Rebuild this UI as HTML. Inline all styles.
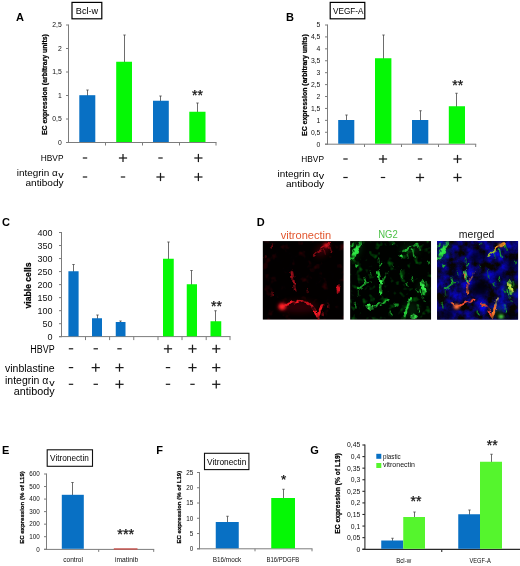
<!DOCTYPE html>
<html><head><meta charset="utf-8"><title>Figure</title>
<style>
html,body{margin:0;padding:0;background:#fff;}
body{width:520px;height:566px;overflow:hidden;}
svg{display:block;font-family:"Liberation Sans",sans-serif;}
</style></head><body>
<svg width="520" height="566" viewBox="0 0 520 566">
<defs>
<filter id="b1" x="-50%" y="-50%" width="200%" height="200%"><feGaussianBlur stdDeviation="0.9"/></filter>
<filter id="b2" x="-50%" y="-50%" width="200%" height="200%"><feGaussianBlur stdDeviation="1.6"/></filter>
<filter id="b3" x="-50%" y="-50%" width="200%" height="200%"><feGaussianBlur stdDeviation="3"/></filter>
<filter id="b0" x="-50%" y="-50%" width="200%" height="200%"><feGaussianBlur stdDeviation="0.55"/></filter>
<filter id="nr" x="0" y="0" width="100%" height="100%" color-interpolation-filters="sRGB"><feTurbulence type="fractalNoise" baseFrequency="0.09" numOctaves="3" seed="7"/><feColorMatrix type="matrix" values="2.4 0 0 0 -1.42  0 0 0 0 0  0.1 0 0 0 -0.04  0 0 0 0 1"/></filter>
<filter id="ng" x="0" y="0" width="100%" height="100%" color-interpolation-filters="sRGB"><feTurbulence type="fractalNoise" baseFrequency="0.16" numOctaves="2" seed="11"/><feColorMatrix type="matrix" values="0 0 0 0 0  0 3.6 0 0 -2.05  0 0.3 0 0 -0.15  0 0 0 0 1"/></filter>
<filter id="nb" x="0" y="0" width="100%" height="100%" color-interpolation-filters="sRGB"><feTurbulence type="fractalNoise" baseFrequency="0.1" numOctaves="4" seed="5"/><feColorMatrix type="matrix" values="0 0 0 0 0.03  0 0 0 0 0.02  0 0 1.55 0 -0.42  0 0 0 0 1"/></filter>
<filter id="org" x="-5%" y="-5%" width="110%" height="110%" color-interpolation-filters="sRGB"><feTurbulence type="fractalNoise" baseFrequency="0.2" numOctaves="2" seed="2" result="n"/><feDisplacementMap in="SourceGraphic" in2="n" scale="4" xChannelSelector="R" yChannelSelector="G" result="d"/><feColorMatrix in="n" type="matrix" values="0 0 0 0 1  0 0 0 0 1  0 0 0 0 1  0 0 2.6 0 -0.5" result="m"/><feComposite in="d" in2="m" operator="in" result="dm"/><feGaussianBlur in="dm" stdDeviation="0.65"/></filter>
<clipPath id="c1"><rect x="0" y="0" width="81" height="78.5"/></clipPath>
</defs>
<rect width="520" height="566" fill="#fff"/>

<text x="16" y="20.5" font-size="11" font-weight="bold" fill="#000" >A</text>
<rect x="72.00" y="2.40" width="29.80" height="16.40" fill="#fff" stroke="#000" stroke-width="1.2"/>
<text x="75.8" y="14" font-size="9.4" fill="#000" textLength="22.3" lengthAdjust="spacingAndGlyphs" >Bcl-w</text>
<line x1="68.5" y1="24.5" x2="68.5" y2="143.0" stroke="#7c7c7c" stroke-width="1"/>
<line x1="66.0" y1="142.5" x2="216.5" y2="142.5" stroke="#7c7c7c" stroke-width="1"/>
<line x1="105.5" y1="142.5" x2="105.5" y2="145.5" stroke="#7c7c7c" stroke-width="1"/>
<line x1="142.5" y1="142.5" x2="142.5" y2="145.5" stroke="#7c7c7c" stroke-width="1"/>
<line x1="179.5" y1="142.5" x2="179.5" y2="145.5" stroke="#7c7c7c" stroke-width="1"/>
<line x1="216" y1="142.5" x2="216" y2="145.5" stroke="#7c7c7c" stroke-width="1"/>
<line x1="66.0" y1="25" x2="68.5" y2="25" stroke="#7c7c7c" stroke-width="1"/>
<text x="61.8" y="27.448" font-size="6.8" text-anchor="end" fill="#111" >2,5</text>
<line x1="66.0" y1="48.5" x2="68.5" y2="48.5" stroke="#7c7c7c" stroke-width="1"/>
<text x="61.8" y="50.948" font-size="6.8" text-anchor="end" fill="#111" >2</text>
<line x1="66.0" y1="72" x2="68.5" y2="72" stroke="#7c7c7c" stroke-width="1"/>
<text x="61.8" y="74.448" font-size="6.8" text-anchor="end" fill="#111" >1,5</text>
<line x1="66.0" y1="95.5" x2="68.5" y2="95.5" stroke="#7c7c7c" stroke-width="1"/>
<text x="61.8" y="97.948" font-size="6.8" text-anchor="end" fill="#111" >1</text>
<line x1="66.0" y1="119" x2="68.5" y2="119" stroke="#7c7c7c" stroke-width="1"/>
<text x="61.8" y="121.448" font-size="6.8" text-anchor="end" fill="#111" >0,5</text>
<line x1="66.0" y1="142.5" x2="68.5" y2="142.5" stroke="#7c7c7c" stroke-width="1"/>
<text x="61.8" y="144.948" font-size="6.8" text-anchor="end" fill="#111" >0</text>
<text font-size="6.7" text-anchor="middle" font-weight="bold" stroke="#000" stroke-width="0.22" fill="#000" textLength="101" lengthAdjust="spacingAndGlyphs" transform="translate(47.3 84.6) rotate(-90)" >EC expression (arbitrary units)</text>
<line x1="87.5" y1="90" x2="87.5" y2="96.2" stroke="#484848" stroke-width="0.8"/>
<line x1="86.3" y1="90" x2="88.7" y2="90" stroke="#484848" stroke-width="0.8"/>
<rect x="79.30" y="95.20" width="16.00" height="46.80" fill="#0870c4"/>
<line x1="124.5" y1="35" x2="124.5" y2="62.75" stroke="#484848" stroke-width="0.8"/>
<line x1="123.3" y1="35" x2="125.7" y2="35" stroke="#484848" stroke-width="0.8"/>
<rect x="116.20" y="61.75" width="15.80" height="80.25" fill="#05f805"/>
<line x1="160.5" y1="96" x2="160.5" y2="101.75" stroke="#484848" stroke-width="0.8"/>
<line x1="159.3" y1="96" x2="161.7" y2="96" stroke="#484848" stroke-width="0.8"/>
<rect x="153.00" y="100.75" width="15.80" height="41.25" fill="#0870c4"/>
<line x1="197.5" y1="103" x2="197.5" y2="112.75" stroke="#484848" stroke-width="0.8"/>
<line x1="196.3" y1="103" x2="198.7" y2="103" stroke="#484848" stroke-width="0.8"/>
<rect x="189.30" y="111.75" width="16.20" height="30.25" fill="#05f805"/>
<text x="197.5" y="99.92" font-size="14" text-anchor="middle" fill="#111" stroke="#111" stroke-width="0.25">**</text>
<text x="63.5" y="161" font-size="9.6" text-anchor="end" fill="#000" textLength="22.7" lengthAdjust="spacingAndGlyphs" >HBVP</text>
<text x="16.7" y="175.8" font-size="9.6" fill="#000" textLength="41" lengthAdjust="spacingAndGlyphs" >integrin α</text>
<text x="58.2" y="178" font-size="8.4" fill="#000" textLength="5.4" lengthAdjust="spacingAndGlyphs" >v</text>
<text x="63.5" y="185.8" font-size="9.6" text-anchor="end" fill="#000" textLength="38" lengthAdjust="spacingAndGlyphs" >antibody</text>
<line x1="82.8" y1="158" x2="87.2" y2="158" stroke="#1a1a1a" stroke-width="1.2"/>
<line x1="82.8" y1="177" x2="87.2" y2="177" stroke="#1a1a1a" stroke-width="1.2"/>
<line x1="118.9" y1="158" x2="127.1" y2="158" stroke="#1a1a1a" stroke-width="1.25"/>
<line x1="123" y1="153.9" x2="123" y2="162.1" stroke="#1a1a1a" stroke-width="1.25"/>
<line x1="120.8" y1="177" x2="125.2" y2="177" stroke="#1a1a1a" stroke-width="1.2"/>
<line x1="158.3" y1="158" x2="162.7" y2="158" stroke="#1a1a1a" stroke-width="1.2"/>
<line x1="156.4" y1="177" x2="164.6" y2="177" stroke="#1a1a1a" stroke-width="1.25"/>
<line x1="160.5" y1="172.9" x2="160.5" y2="181.1" stroke="#1a1a1a" stroke-width="1.25"/>
<line x1="194.3" y1="158" x2="202.5" y2="158" stroke="#1a1a1a" stroke-width="1.25"/>
<line x1="198.4" y1="153.9" x2="198.4" y2="162.1" stroke="#1a1a1a" stroke-width="1.25"/>
<line x1="194.3" y1="177" x2="202.5" y2="177" stroke="#1a1a1a" stroke-width="1.25"/>
<line x1="198.4" y1="172.9" x2="198.4" y2="181.1" stroke="#1a1a1a" stroke-width="1.25"/>
<text x="286" y="20.5" font-size="11" font-weight="bold" fill="#000" >B</text>
<rect x="330.20" y="2.40" width="34.60" height="16.40" fill="#fff" stroke="#000" stroke-width="1.2"/>
<text x="333" y="14.1" font-size="9.4" fill="#000" textLength="30.4" lengthAdjust="spacingAndGlyphs" >VEGF-A</text>
<line x1="327.5" y1="24.5" x2="327.5" y2="144.7" stroke="#7c7c7c" stroke-width="1"/>
<line x1="325.0" y1="144.2" x2="476.2" y2="144.2" stroke="#7c7c7c" stroke-width="1"/>
<line x1="364.5" y1="144.2" x2="364.5" y2="147.0" stroke="#7c7c7c" stroke-width="1"/>
<line x1="401.5" y1="144.2" x2="401.5" y2="147.0" stroke="#7c7c7c" stroke-width="1"/>
<line x1="438.5" y1="144.2" x2="438.5" y2="147.0" stroke="#7c7c7c" stroke-width="1"/>
<line x1="475.7" y1="144.2" x2="475.7" y2="147.0" stroke="#7c7c7c" stroke-width="1"/>
<line x1="325.0" y1="25.0" x2="327.5" y2="25.0" stroke="#7c7c7c" stroke-width="1"/>
<text x="320.4" y="27.448" font-size="6.8" text-anchor="end" fill="#111" >5</text>
<line x1="325.0" y1="36.92" x2="327.5" y2="36.92" stroke="#7c7c7c" stroke-width="1"/>
<text x="320.4" y="39.368" font-size="6.8" text-anchor="end" fill="#111" >4,5</text>
<line x1="325.0" y1="48.84" x2="327.5" y2="48.84" stroke="#7c7c7c" stroke-width="1"/>
<text x="320.4" y="51.288000000000004" font-size="6.8" text-anchor="end" fill="#111" >4</text>
<line x1="325.0" y1="60.76" x2="327.5" y2="60.76" stroke="#7c7c7c" stroke-width="1"/>
<text x="320.4" y="63.208" font-size="6.8" text-anchor="end" fill="#111" >3,5</text>
<line x1="325.0" y1="72.68" x2="327.5" y2="72.68" stroke="#7c7c7c" stroke-width="1"/>
<text x="320.4" y="75.128" font-size="6.8" text-anchor="end" fill="#111" >3</text>
<line x1="325.0" y1="84.6" x2="327.5" y2="84.6" stroke="#7c7c7c" stroke-width="1"/>
<text x="320.4" y="87.04799999999999" font-size="6.8" text-anchor="end" fill="#111" >2,5</text>
<line x1="325.0" y1="96.52" x2="327.5" y2="96.52" stroke="#7c7c7c" stroke-width="1"/>
<text x="320.4" y="98.96799999999999" font-size="6.8" text-anchor="end" fill="#111" >2</text>
<line x1="325.0" y1="108.44" x2="327.5" y2="108.44" stroke="#7c7c7c" stroke-width="1"/>
<text x="320.4" y="110.88799999999999" font-size="6.8" text-anchor="end" fill="#111" >1,5</text>
<line x1="325.0" y1="120.36" x2="327.5" y2="120.36" stroke="#7c7c7c" stroke-width="1"/>
<text x="320.4" y="122.80799999999999" font-size="6.8" text-anchor="end" fill="#111" >1</text>
<line x1="325.0" y1="132.28" x2="327.5" y2="132.28" stroke="#7c7c7c" stroke-width="1"/>
<text x="320.4" y="134.728" font-size="6.8" text-anchor="end" fill="#111" >0,5</text>
<line x1="325.0" y1="144.2" x2="327.5" y2="144.2" stroke="#7c7c7c" stroke-width="1"/>
<text x="320.4" y="146.648" font-size="6.8" text-anchor="end" fill="#111" >0</text>
<text font-size="6.7" text-anchor="middle" font-weight="bold" stroke="#000" stroke-width="0.22" fill="#000" textLength="101.8" lengthAdjust="spacingAndGlyphs" transform="translate(307.2 85.1) rotate(-90)" >EC expression (arbitrary units)</text>
<line x1="346.5" y1="115" x2="346.5" y2="121" stroke="#484848" stroke-width="0.8"/>
<line x1="345.3" y1="115" x2="347.7" y2="115" stroke="#484848" stroke-width="0.8"/>
<rect x="338.20" y="120.00" width="16.10" height="23.70" fill="#0870c4"/>
<line x1="383.5" y1="35" x2="383.5" y2="59.25" stroke="#484848" stroke-width="0.8"/>
<line x1="382.3" y1="35" x2="384.7" y2="35" stroke="#484848" stroke-width="0.8"/>
<rect x="375.00" y="58.25" width="16.40" height="85.45" fill="#05f805"/>
<line x1="420.5" y1="110.75" x2="420.5" y2="121" stroke="#484848" stroke-width="0.8"/>
<line x1="419.3" y1="110.75" x2="421.7" y2="110.75" stroke="#484848" stroke-width="0.8"/>
<rect x="412.00" y="120.00" width="16.30" height="23.70" fill="#0870c4"/>
<line x1="456.5" y1="93.25" x2="456.5" y2="107.25" stroke="#484848" stroke-width="0.8"/>
<line x1="455.3" y1="93.25" x2="457.7" y2="93.25" stroke="#484848" stroke-width="0.8"/>
<rect x="448.80" y="106.25" width="16.20" height="37.45" fill="#05f805"/>
<text x="457.7" y="89.92" font-size="14" text-anchor="middle" fill="#111" stroke="#111" stroke-width="0.25">**</text>
<text x="324" y="162" font-size="9.6" text-anchor="end" fill="#000" textLength="22.7" lengthAdjust="spacingAndGlyphs" >HBVP</text>
<text x="277.5" y="176.8" font-size="9.6" fill="#000" textLength="41" lengthAdjust="spacingAndGlyphs" >integrin α</text>
<text x="318.8" y="179" font-size="8.4" fill="#000" textLength="5.4" lengthAdjust="spacingAndGlyphs" >v</text>
<text x="324" y="187" font-size="9.6" text-anchor="end" fill="#000" textLength="38" lengthAdjust="spacingAndGlyphs" >antibody</text>
<line x1="343.3" y1="159" x2="347.7" y2="159" stroke="#1a1a1a" stroke-width="1.2"/>
<line x1="343.3" y1="177.5" x2="347.7" y2="177.5" stroke="#1a1a1a" stroke-width="1.2"/>
<line x1="378.9" y1="159" x2="387.1" y2="159" stroke="#1a1a1a" stroke-width="1.25"/>
<line x1="383" y1="154.9" x2="383" y2="163.1" stroke="#1a1a1a" stroke-width="1.25"/>
<line x1="380.8" y1="177.5" x2="385.2" y2="177.5" stroke="#1a1a1a" stroke-width="1.2"/>
<line x1="417.8" y1="159" x2="422.2" y2="159" stroke="#1a1a1a" stroke-width="1.2"/>
<line x1="415.9" y1="177.5" x2="424.1" y2="177.5" stroke="#1a1a1a" stroke-width="1.25"/>
<line x1="420" y1="173.4" x2="420" y2="181.6" stroke="#1a1a1a" stroke-width="1.25"/>
<line x1="453.4" y1="159" x2="461.6" y2="159" stroke="#1a1a1a" stroke-width="1.25"/>
<line x1="457.5" y1="154.9" x2="457.5" y2="163.1" stroke="#1a1a1a" stroke-width="1.25"/>
<line x1="453.4" y1="177.5" x2="461.6" y2="177.5" stroke="#1a1a1a" stroke-width="1.25"/>
<line x1="457.5" y1="173.4" x2="457.5" y2="181.6" stroke="#1a1a1a" stroke-width="1.25"/>
<text x="2" y="225.6" font-size="11" font-weight="bold" fill="#000" >C</text>
<line x1="61.5" y1="232.0" x2="61.5" y2="337.1" stroke="#7c7c7c" stroke-width="1"/>
<line x1="59.0" y1="336.6" x2="230.5" y2="336.6" stroke="#7c7c7c" stroke-width="1"/>
<line x1="85.5" y1="336.6" x2="85.5" y2="340.1" stroke="#7c7c7c" stroke-width="1"/>
<line x1="109.6" y1="336.6" x2="109.6" y2="340.1" stroke="#7c7c7c" stroke-width="1"/>
<line x1="133.75" y1="336.6" x2="133.75" y2="340.1" stroke="#7c7c7c" stroke-width="1"/>
<line x1="158" y1="336.6" x2="158" y2="340.1" stroke="#7c7c7c" stroke-width="1"/>
<line x1="182" y1="336.6" x2="182" y2="340.1" stroke="#7c7c7c" stroke-width="1"/>
<line x1="206.2" y1="336.6" x2="206.2" y2="340.1" stroke="#7c7c7c" stroke-width="1"/>
<line x1="230" y1="336.6" x2="230" y2="340.1" stroke="#7c7c7c" stroke-width="1"/>
<line x1="59.0" y1="232.5" x2="61.5" y2="232.5" stroke="#7c7c7c" stroke-width="1"/>
<text x="52.5" y="235.74" font-size="9" text-anchor="end" fill="#111" >400</text>
<line x1="59.0" y1="245.53" x2="61.5" y2="245.53" stroke="#7c7c7c" stroke-width="1"/>
<text x="52.5" y="248.77" font-size="9" text-anchor="end" fill="#111" >350</text>
<line x1="59.0" y1="258.56" x2="61.5" y2="258.56" stroke="#7c7c7c" stroke-width="1"/>
<text x="52.5" y="261.8" font-size="9" text-anchor="end" fill="#111" >300</text>
<line x1="59.0" y1="271.59" x2="61.5" y2="271.59" stroke="#7c7c7c" stroke-width="1"/>
<text x="52.5" y="274.83" font-size="9" text-anchor="end" fill="#111" >250</text>
<line x1="59.0" y1="284.62" x2="61.5" y2="284.62" stroke="#7c7c7c" stroke-width="1"/>
<text x="52.5" y="287.86" font-size="9" text-anchor="end" fill="#111" >200</text>
<line x1="59.0" y1="297.65" x2="61.5" y2="297.65" stroke="#7c7c7c" stroke-width="1"/>
<text x="52.5" y="300.89" font-size="9" text-anchor="end" fill="#111" >150</text>
<line x1="59.0" y1="310.68" x2="61.5" y2="310.68" stroke="#7c7c7c" stroke-width="1"/>
<text x="52.5" y="313.92" font-size="9" text-anchor="end" fill="#111" >100</text>
<line x1="59.0" y1="323.71" x2="61.5" y2="323.71" stroke="#7c7c7c" stroke-width="1"/>
<text x="52.5" y="326.95" font-size="9" text-anchor="end" fill="#111" >50</text>
<line x1="59.0" y1="336.74" x2="61.5" y2="336.74" stroke="#7c7c7c" stroke-width="1"/>
<text x="52.5" y="339.98" font-size="9" text-anchor="end" fill="#111" >0</text>
<text font-size="8.8" text-anchor="middle" font-weight="bold" stroke="#000" stroke-width="0.22" fill="#000" textLength="46" lengthAdjust="spacingAndGlyphs" transform="translate(31 285.5) rotate(-90)" >viable cells</text>
<line x1="73.5" y1="264.5" x2="73.5" y2="272.25" stroke="#484848" stroke-width="0.8"/>
<line x1="72.3" y1="264.5" x2="74.7" y2="264.5" stroke="#484848" stroke-width="0.8"/>
<rect x="68.40" y="271.25" width="10.20" height="65.05" fill="#0870c4"/>
<line x1="97.5" y1="315" x2="97.5" y2="319.25" stroke="#484848" stroke-width="0.8"/>
<line x1="96.3" y1="315" x2="98.7" y2="315" stroke="#484848" stroke-width="0.8"/>
<rect x="92.00" y="318.25" width="10.00" height="18.05" fill="#0870c4"/>
<line x1="120.5" y1="321" x2="120.5" y2="323" stroke="#484848" stroke-width="0.8"/>
<line x1="119.3" y1="321" x2="121.7" y2="321" stroke="#484848" stroke-width="0.8"/>
<rect x="115.75" y="322.00" width="9.75" height="14.30" fill="#0870c4"/>
<line x1="168.5" y1="242" x2="168.5" y2="259.75" stroke="#484848" stroke-width="0.8"/>
<line x1="167.3" y1="242" x2="169.7" y2="242" stroke="#484848" stroke-width="0.8"/>
<rect x="163.00" y="258.75" width="10.75" height="77.55" fill="#05f805"/>
<line x1="191.5" y1="270.5" x2="191.5" y2="285.25" stroke="#484848" stroke-width="0.8"/>
<line x1="190.3" y1="270.5" x2="192.7" y2="270.5" stroke="#484848" stroke-width="0.8"/>
<rect x="186.75" y="284.25" width="10.25" height="52.05" fill="#05f805"/>
<line x1="215.5" y1="310.75" x2="215.5" y2="322.25" stroke="#484848" stroke-width="0.8"/>
<line x1="214.3" y1="310.75" x2="216.7" y2="310.75" stroke="#484848" stroke-width="0.8"/>
<rect x="210.50" y="321.25" width="10.75" height="15.05" fill="#05f805"/>
<text x="216.5" y="311.17" font-size="14" text-anchor="middle" fill="#111" stroke="#111" stroke-width="0.25">**</text>
<text x="54.6" y="353.3" font-size="10" text-anchor="end" fill="#000" textLength="24.3" lengthAdjust="spacingAndGlyphs" >HBVP</text>
<text x="54.6" y="371.7" font-size="10" text-anchor="end" fill="#000" textLength="49.6" lengthAdjust="spacingAndGlyphs" >vinblastine</text>
<text x="5" y="384" font-size="10" fill="#000" textLength="43.3" lengthAdjust="spacingAndGlyphs" >integrin α</text>
<text x="49.2" y="386.3" font-size="8.6" fill="#000" textLength="5.4" lengthAdjust="spacingAndGlyphs" >v</text>
<text x="54.6" y="394.9" font-size="10" text-anchor="end" fill="#000" textLength="40.8" lengthAdjust="spacingAndGlyphs" >antibody</text>
<line x1="68.8" y1="348.8" x2="73.2" y2="348.8" stroke="#1a1a1a" stroke-width="1.2"/>
<line x1="68.8" y1="367.6" x2="73.2" y2="367.6" stroke="#1a1a1a" stroke-width="1.2"/>
<line x1="68.8" y1="384.3" x2="73.2" y2="384.3" stroke="#1a1a1a" stroke-width="1.2"/>
<line x1="93.55" y1="348.8" x2="97.95" y2="348.8" stroke="#1a1a1a" stroke-width="1.2"/>
<line x1="91.65" y1="367.6" x2="99.85" y2="367.6" stroke="#1a1a1a" stroke-width="1.25"/>
<line x1="95.75" y1="363.5" x2="95.75" y2="371.70000000000005" stroke="#1a1a1a" stroke-width="1.25"/>
<line x1="93.55" y1="384.3" x2="97.95" y2="384.3" stroke="#1a1a1a" stroke-width="1.2"/>
<line x1="117.3" y1="348.8" x2="121.7" y2="348.8" stroke="#1a1a1a" stroke-width="1.2"/>
<line x1="115.4" y1="367.6" x2="123.6" y2="367.6" stroke="#1a1a1a" stroke-width="1.25"/>
<line x1="119.5" y1="363.5" x2="119.5" y2="371.70000000000005" stroke="#1a1a1a" stroke-width="1.25"/>
<line x1="115.4" y1="384.3" x2="123.6" y2="384.3" stroke="#1a1a1a" stroke-width="1.25"/>
<line x1="119.5" y1="380.2" x2="119.5" y2="388.40000000000003" stroke="#1a1a1a" stroke-width="1.25"/>
<line x1="163.9" y1="348.8" x2="172.1" y2="348.8" stroke="#1a1a1a" stroke-width="1.25"/>
<line x1="168" y1="344.7" x2="168" y2="352.90000000000003" stroke="#1a1a1a" stroke-width="1.25"/>
<line x1="165.8" y1="367.6" x2="170.2" y2="367.6" stroke="#1a1a1a" stroke-width="1.2"/>
<line x1="165.8" y1="384.3" x2="170.2" y2="384.3" stroke="#1a1a1a" stroke-width="1.2"/>
<line x1="188.4" y1="348.8" x2="196.6" y2="348.8" stroke="#1a1a1a" stroke-width="1.25"/>
<line x1="192.5" y1="344.7" x2="192.5" y2="352.90000000000003" stroke="#1a1a1a" stroke-width="1.25"/>
<line x1="188.4" y1="367.6" x2="196.6" y2="367.6" stroke="#1a1a1a" stroke-width="1.25"/>
<line x1="192.5" y1="363.5" x2="192.5" y2="371.70000000000005" stroke="#1a1a1a" stroke-width="1.25"/>
<line x1="190.3" y1="384.3" x2="194.7" y2="384.3" stroke="#1a1a1a" stroke-width="1.2"/>
<line x1="212.15" y1="348.8" x2="220.35" y2="348.8" stroke="#1a1a1a" stroke-width="1.25"/>
<line x1="216.25" y1="344.7" x2="216.25" y2="352.90000000000003" stroke="#1a1a1a" stroke-width="1.25"/>
<line x1="212.15" y1="367.6" x2="220.35" y2="367.6" stroke="#1a1a1a" stroke-width="1.25"/>
<line x1="216.25" y1="363.5" x2="216.25" y2="371.70000000000005" stroke="#1a1a1a" stroke-width="1.25"/>
<line x1="212.15" y1="384.3" x2="220.35" y2="384.3" stroke="#1a1a1a" stroke-width="1.25"/>
<line x1="216.25" y1="380.2" x2="216.25" y2="388.40000000000003" stroke="#1a1a1a" stroke-width="1.25"/>
<text x="256.7" y="225.6" font-size="11" font-weight="bold" fill="#000" >D</text>
<text x="306" y="238.6" font-size="10.5" text-anchor="middle" fill="#e2562f" textLength="50.5" lengthAdjust="spacingAndGlyphs" >vitronectin</text>
<text x="388" y="238.4" font-size="10.5" text-anchor="middle" fill="#4fc24a" textLength="19.5" lengthAdjust="spacingAndGlyphs" >NG2</text>
<text x="476.6" y="238.4" font-size="10.5" text-anchor="middle" fill="#111" textLength="35.5" lengthAdjust="spacingAndGlyphs" >merged</text>
<g transform="translate(262.7 241.1)"><g clip-path="url(#c1)">
<rect width="81" height="79" fill="#040001"/>
<rect width="81" height="79" filter="url(#nr)" opacity="0.3"/>
<g filter="url(#b3)" opacity="0.45">
<ellipse cx="60" cy="9" rx="9" ry="5" fill="#700008" transform="rotate(-35 60 9)"/>
<ellipse cx="36" cy="66" rx="20" ry="6" fill="#600008"/>
</g>
<g filter="url(#org)" fill="none" stroke-linecap="round" stroke-linejoin="round">
<rect x="0" y="0" width="81" height="79" fill="none" stroke="none"/>
<path d="M29 31 L30.5 38 L31.5 44 L32.5 50" stroke="#a00e1a" stroke-width="2.6"/>
<path d="M51 15 L55 11 L58 9" stroke="#8a0a14" stroke-width="1.8"/>
<path d="M59 7 L62 5 L66 3" stroke="#c00e1c" stroke-width="2.6"/>
<path d="M67 6 L69 11" stroke="#7a0912" stroke-width="1.6"/>
<path d="M61.5 9 L62.5 13" stroke="#7a0912" stroke-width="1.5"/>
<ellipse cx="75.6" cy="48" rx="1.8" ry="5" fill="#d0101e" stroke="none"/>
<ellipse cx="66" cy="64" rx="1.3" ry="3.8" fill="#7a0912" stroke="none"/>
<ellipse cx="9.5" cy="5" rx="1.1" ry="2.8" fill="#6a0810" stroke="none"/>
<ellipse cx="9" cy="53" rx="1.3" ry="2.8" fill="#60070e" stroke="none"/>
<ellipse cx="3" cy="16" rx="1.3" ry="1.8" fill="#60070e" stroke="none"/>
<ellipse cx="60" cy="73" rx="1.3" ry="2.8" fill="#7a0912" stroke="none"/>
<ellipse cx="45" cy="50" rx="1.3" ry="3.2" fill="#50060c" stroke="none"/>
<path d="M20 66 L25 63 L31 61 L36 60" stroke="#f01824" stroke-width="2.8"/>
<path d="M36 60 L40 60 L45 62 L49 65" stroke="#c0101c" stroke-width="2.2"/>
<path d="M49 65 L52 69 L54 73 L55.5 78" stroke="#f81a26" stroke-width="2.8"/>
<path d="M55.5 77 L57 70 L59.5 64" stroke="#f01824" stroke-width="2.2"/>
</g>
<g filter="url(#b2)" opacity="0.55"><ellipse cx="19.5" cy="65.5" rx="5" ry="4.5" fill="#b00c14"/><ellipse cx="63.6" cy="4.4" rx="4" ry="3" fill="#900c14"/></g>
<g filter="url(#b1)">
<ellipse cx="19.5" cy="65.5" rx="3.2" ry="2.8" fill="#ff2228"/>
<ellipse cx="63.6" cy="4.4" rx="2.3" ry="1.9" fill="#e01622"/>
</g>
</g></g>
<g transform="translate(350.1 241.1)"><g clip-path="url(#c1)">
<rect width="81" height="79" fill="#010301"/>
<rect width="81" height="79" filter="url(#ng)" opacity="0.32"/>
<g filter="url(#b3)" opacity="0.3">
<ellipse cx="6" cy="10" rx="4" ry="10" fill="#0a7a18" transform="rotate(25 6 10)"/>
<ellipse cx="60" cy="9" rx="10" ry="5" fill="#0a5a14"/>
<ellipse cx="73" cy="47" rx="5" ry="7" fill="#0a6a16"/>
<ellipse cx="61" cy="68" rx="8" ry="8" fill="#0a5a14"/>
</g>
<g filter="url(#org)" fill="none" stroke-linecap="round" stroke-linejoin="round">
<rect x="0" y="0" width="81" height="79" fill="none" stroke="none"/>
<path d="M2.5 17 L5 11 L8 6 L10.5 2.5" stroke-width="4.4" stroke="#26d03a"/>
<path d="M4 12 L7 7" stroke-width="2.6" stroke="#30e848"/>
<path d="M1 6 L3 2" stroke-width="2" stroke="#1eb030"/>
<ellipse cx="6.7" cy="24" rx="1.7" ry="1.6" fill="#1eb030" stroke="none"/>
<path d="M29 26 L31.5 22" stroke-width="1.6" stroke="#1eb030"/>
<path d="M28.5 17 L29 21" stroke-width="1.4" stroke="#168a24"/>
<path d="M54 10 L60 6 L67 3.5" stroke-width="2" stroke="#1eb030"/>
<ellipse cx="51" cy="15.5" rx="1.8" ry="1.8" fill="#30e848" stroke="none"/>
<path d="M62.5 9 L64 16" stroke-width="1.7" stroke="#1eb030"/>
<path d="M68 4 L70 9" stroke-width="1.6" stroke="#168a24"/>
<path d="M57 12 L58 17" stroke-width="1.4" stroke="#168a24"/>
<ellipse cx="44" cy="2" rx="1.6" ry="1.3" fill="#1eb030" stroke="none"/>
<ellipse cx="78" cy="22" rx="1.3" ry="1.8" fill="#168a24" stroke="none"/>
<path d="M28 30.5 L29.5 36 L30.5 41 L30.3 47 L30 53" stroke-width="2.4" stroke="#26d03a"/>
<path d="M37 32 L35 36 L32.5 40" stroke-width="1.5" stroke="#1eb030"/>
<path d="M14 37 L16 42 L12 45 L8.5 48" stroke-width="1.7" stroke="#1eb030"/>
<path d="M16 42 L21 41" stroke-width="1.4" stroke="#168a24"/>
<path d="M8 50 L8.5 55" stroke-width="1.4" stroke="#168a24"/>
<path d="M51 30 L51.5 36" stroke-width="1.7" stroke="#168a24"/>
<path d="M62 36.5 L62.5 40" stroke-width="1.6" stroke="#168a24"/>
<path d="M57 42 L58 45" stroke-width="1.4" stroke="#168a24"/>
<path d="M66 48 L68 52" stroke-width="1.5" stroke="#168a24"/>
<path d="M42 24 L43 27" stroke-width="1.3" stroke="#168a24"/>
<path d="M20 30 L21 33" stroke-width="1.3" stroke="#168a24"/>
<path d="M40 70 L42 74" stroke-width="1.4" stroke="#168a24"/>
<path d="M5 62 L6 66" stroke-width="1.3" stroke="#168a24"/>
<path d="M24 65 L31 62.5 L38.5 58.5" stroke-width="1.9" stroke="#1eb030"/>
<path d="M54.6 75 L56 70 L58 64 L60 58" stroke-width="2.3" stroke="#26d03a"/>
<path d="M67 62.5 L68 66 L69 70.5" stroke-width="1.8" stroke="#1eb030"/>
<ellipse cx="46.6" cy="64" rx="2.3" ry="1.6" fill="#168a24" stroke="none"/>
<path d="M72 56 L74 60" stroke-width="1.5" stroke="#168a24"/>
<path d="M72.5 41 L73.5 46 L74.5 52" stroke-width="3.8" stroke="#26d03a"/>
<path d="M71.5 43 L73.5 46.5 L75.5 50" stroke-width="1.8" stroke="#3af050"/>
<path d="M76 41 L77 45" stroke-width="1.5" stroke="#1eb030"/>
<path d="M70 49 L71 53" stroke-width="1.5" stroke="#1eb030"/>
</g>
<g filter="url(#org)" stroke-linecap="round" fill="none">
<rect x="0" y="0" width="81" height="79" fill="none" stroke="none"/>
<path d="M17.8 64.3 L19.5 66 L21.2 67.3" stroke-width="5" stroke="#38f04c"/>
<path d="M62.8 75 L65.2 76" stroke-width="4.8" stroke="#38f04c"/>
<ellipse cx="30.5" cy="40.5" rx="1.5" ry="3" fill="#3af050" stroke="none"/>
</g>
</g></g>
<g transform="translate(437.1 241.1)"><g clip-path="url(#c1)">
<rect width="81" height="79" fill="#08085a"/>
<rect width="81" height="79" filter="url(#nb)"/>
<g filter="url(#b3)" opacity="0.9">
<ellipse cx="43" cy="47" rx="9" ry="9" fill="#01010a"/>
<ellipse cx="40" cy="15" rx="8" ry="5" fill="#020218"/>
<ellipse cx="76" cy="22" rx="5" ry="7" fill="#020218"/>
<ellipse cx="10" cy="73" rx="7" ry="4" fill="#02021c"/>
<ellipse cx="75" cy="75" rx="5" ry="4" fill="#01010e"/>
<ellipse cx="62" cy="36" rx="5" ry="4" fill="#020218"/>
<ellipse cx="18" cy="32" rx="4" ry="5" fill="#03032a"/>
</g>
<g filter="url(#b3)" opacity="0.4">
<ellipse cx="6" cy="10" rx="4" ry="10" fill="#0a8a18" transform="rotate(25 6 10)"/>
<ellipse cx="73" cy="47" rx="5" ry="7" fill="#0a7a16"/>
<ellipse cx="61" cy="70" rx="7" ry="6" fill="#0a5a14"/>
</g>
<g filter="url(#org)" fill="none" stroke-linecap="round" stroke-linejoin="round">
<rect x="0" y="0" width="81" height="79" fill="none" stroke="none"/>
<path d="M2.5 17 L5 11 L8 6 L10.5 2.5" stroke-width="4.4" stroke="#26d03a"/>
<path d="M4 12 L7 7" stroke-width="2.6" stroke="#30e848"/>
<path d="M1 6 L3 2" stroke-width="2" stroke="#1eb030"/>
<ellipse cx="6.7" cy="24" rx="1.7" ry="1.6" fill="#1eb030" stroke="none"/>
<path d="M29 26 L31.5 22" stroke-width="1.6" stroke="#1eb030"/>
<path d="M28.5 17 L29 21" stroke-width="1.4" stroke="#168a24"/>
<path d="M62.5 9 L64 16" stroke-width="1.7" stroke="#1eb030"/>
<path d="M68 4 L70 9" stroke-width="1.6" stroke="#168a24"/>
<path d="M57 12 L58 17" stroke-width="1.4" stroke="#168a24"/>
<ellipse cx="44" cy="2" rx="1.6" ry="1.3" fill="#1eb030" stroke="none"/>
<ellipse cx="78" cy="22" rx="1.3" ry="1.8" fill="#168a24" stroke="none"/>
<path d="M14 37 L16 42 L12 45 L8.5 48" stroke-width="1.7" stroke="#1eb030"/>
<path d="M16 42 L21 41" stroke-width="1.4" stroke="#168a24"/>
<path d="M8 50 L8.5 55" stroke-width="1.4" stroke="#168a24"/>
<path d="M51 30 L51.5 36" stroke-width="1.7" stroke="#168a24"/>
<path d="M62 36.5 L62.5 40" stroke-width="1.6" stroke="#168a24"/>
<path d="M57 42 L58 45" stroke-width="1.4" stroke="#168a24"/>
<path d="M66 48 L68 52" stroke-width="1.5" stroke="#168a24"/>
<path d="M42 24 L43 27" stroke-width="1.3" stroke="#168a24"/>
<path d="M20 30 L21 33" stroke-width="1.3" stroke="#168a24"/>
<path d="M40 70 L42 74" stroke-width="1.4" stroke="#168a24"/>
<path d="M5 62 L6 66" stroke-width="1.3" stroke="#168a24"/>
<path d="M67 62.5 L68 66 L69 70.5" stroke-width="1.8" stroke="#1eb030"/>
<ellipse cx="46.6" cy="64" rx="2.3" ry="1.6" fill="#168a24" stroke="none"/>
<path d="M72 56 L74 60" stroke-width="1.5" stroke="#168a24"/>
<path d="M72.5 41 L73.5 46 L74.5 52" stroke-width="3.8" stroke="#60c834"/>
<path d="M71.5 43 L73.5 46.5 L75.5 50" stroke-width="1.8" stroke="#c8d848"/>
<path d="M76 41 L77 45" stroke-width="1.5" stroke="#1eb030"/>
<path d="M70 49 L71 53" stroke-width="1.5" stroke="#1eb030"/>
</g>
<g filter="url(#org)" fill="none" stroke-linecap="round" stroke-linejoin="round">
<rect x="0" y="0" width="81" height="79" fill="none" stroke="none"/>
<path d="M51 15.5 L55 11.5 L58 9" stroke-width="2" stroke="#9ac026"/>
<path d="M59 7 L62 5 L67 3.5" stroke-width="2.8" stroke="#f08a20"/>
<path d="M28 30.5 L29.5 36 L30.5 41" stroke-width="2.4" stroke="#48c850"/>
<path d="M27.5 33 L28 38" stroke-width="1.4" stroke="#e0682c"/>
<path d="M30.5 42 L30.3 47 L30 53" stroke-width="2" stroke="#d8602e"/>
<path d="M37 32 L35 36 L32.5 40" stroke-width="1.4" stroke="#b06a44"/>
<path d="M21 66 Q26 62 32 60.5 L37 58.5" stroke="#f8502e" stroke-width="2.6"/>
<path d="M45 63.5 Q49 64 51 67 L53 71 L55 77" stroke="#e8442e" stroke-width="2.3"/>
<path d="M55 77 L57 70 L58.5 64" stroke="#f8782e" stroke-width="2.3"/>
<path d="M58.5 64 L60 58" stroke="#a89a58" stroke-width="1.8"/>
<path d="M14 62 L17 64" stroke="#e8602e" stroke-width="1.8"/>
</g>
<g filter="url(#b1)">
<ellipse cx="19.5" cy="65.5" rx="3" ry="2.6" fill="#ff6e3e"/>
<ellipse cx="64" cy="75.5" rx="2.6" ry="2.2" fill="#48d030"/>
<ellipse cx="63.5" cy="4.2" rx="2.3" ry="1.7" fill="#f08a22"/>
</g>
</g></g>
<text x="2" y="453.8" font-size="11" font-weight="bold" fill="#000" >E</text>
<rect x="47.20" y="449.80" width="45.30" height="16.50" fill="#fff" stroke="#111" stroke-width="1.1"/>
<text x="50.1" y="461.4" font-size="8.8" fill="#000" textLength="38.7" lengthAdjust="spacingAndGlyphs" >Vitronectin</text>
<line x1="46.5" y1="473.5" x2="46.5" y2="549.9" stroke="#7c7c7c" stroke-width="1"/>
<line x1="44.0" y1="549.4" x2="154.2" y2="549.4" stroke="#7c7c7c" stroke-width="1"/>
<line x1="98.7" y1="549.4" x2="98.7" y2="551.9" stroke="#7c7c7c" stroke-width="1"/>
<line x1="153.7" y1="549.4" x2="153.7" y2="551.9" stroke="#7c7c7c" stroke-width="1"/>
<line x1="44.0" y1="474.0" x2="46.5" y2="474.0" stroke="#7c7c7c" stroke-width="1"/>
<text x="39.8" y="476.268" font-size="6.3" text-anchor="end" fill="#111" >600</text>
<line x1="44.0" y1="486.54" x2="46.5" y2="486.54" stroke="#7c7c7c" stroke-width="1"/>
<text x="39.8" y="488.808" font-size="6.3" text-anchor="end" fill="#111" >500</text>
<line x1="44.0" y1="499.08" x2="46.5" y2="499.08" stroke="#7c7c7c" stroke-width="1"/>
<text x="39.8" y="501.34799999999996" font-size="6.3" text-anchor="end" fill="#111" >400</text>
<line x1="44.0" y1="511.62" x2="46.5" y2="511.62" stroke="#7c7c7c" stroke-width="1"/>
<text x="39.8" y="513.888" font-size="6.3" text-anchor="end" fill="#111" >300</text>
<line x1="44.0" y1="524.16" x2="46.5" y2="524.16" stroke="#7c7c7c" stroke-width="1"/>
<text x="39.8" y="526.428" font-size="6.3" text-anchor="end" fill="#111" >200</text>
<line x1="44.0" y1="536.7" x2="46.5" y2="536.7" stroke="#7c7c7c" stroke-width="1"/>
<text x="39.8" y="538.9680000000001" font-size="6.3" text-anchor="end" fill="#111" >100</text>
<line x1="44.0" y1="549.24" x2="46.5" y2="549.24" stroke="#7c7c7c" stroke-width="1"/>
<text x="39.8" y="551.508" font-size="6.3" text-anchor="end" fill="#111" >0</text>
<text font-size="6.2" text-anchor="middle" font-weight="bold" stroke="#000" stroke-width="0.22" fill="#000" textLength="72.7" lengthAdjust="spacingAndGlyphs" transform="translate(24 507.5) rotate(-90)" >EC expression (% of L19)</text>
<line x1="72.5" y1="482.5" x2="72.5" y2="495.8" stroke="#484848" stroke-width="0.8"/>
<line x1="71.3" y1="482.5" x2="73.7" y2="482.5" stroke="#484848" stroke-width="0.8"/>
<rect x="61.80" y="494.80" width="22.00" height="54.00" fill="#0870c4"/>
<rect x="113.80" y="548.30" width="23.70" height="1.40" fill="#c8504a"/>
<text x="125.8" y="539.4849999999999" font-size="14.5" text-anchor="middle" fill="#111" stroke="#111" stroke-width="0.25">***</text>
<text x="73.1" y="561.7" font-size="6.4" text-anchor="middle" fill="#111" textLength="19.8" lengthAdjust="spacingAndGlyphs" >control</text>
<text x="126.6" y="561.7" font-size="6.4" text-anchor="middle" fill="#111" textLength="23.1" lengthAdjust="spacingAndGlyphs" >imatinib</text>
<text x="156.2" y="453.8" font-size="11" font-weight="bold" fill="#000" >F</text>
<rect x="204.50" y="453.30" width="44.40" height="16.30" fill="#fff" stroke="#111" stroke-width="1.1"/>
<text x="207.1" y="464.6" font-size="8.8" fill="#000" textLength="39.2" lengthAdjust="spacingAndGlyphs" >Vitronectin</text>
<line x1="199.5" y1="472.0" x2="199.5" y2="549.3" stroke="#7c7c7c" stroke-width="1"/>
<line x1="197.0" y1="548.8" x2="312.5" y2="548.8" stroke="#7c7c7c" stroke-width="1"/>
<line x1="255" y1="548.8" x2="255" y2="551.3" stroke="#7c7c7c" stroke-width="1"/>
<line x1="312" y1="548.8" x2="312" y2="551.3" stroke="#7c7c7c" stroke-width="1"/>
<line x1="197.0" y1="472.5" x2="199.5" y2="472.5" stroke="#7c7c7c" stroke-width="1"/>
<text x="193.3" y="474.768" font-size="6.3" text-anchor="end" fill="#111" >25</text>
<line x1="197.0" y1="487.76" x2="199.5" y2="487.76" stroke="#7c7c7c" stroke-width="1"/>
<text x="193.3" y="490.02799999999996" font-size="6.3" text-anchor="end" fill="#111" >20</text>
<line x1="197.0" y1="503.02" x2="199.5" y2="503.02" stroke="#7c7c7c" stroke-width="1"/>
<text x="193.3" y="505.28799999999995" font-size="6.3" text-anchor="end" fill="#111" >15</text>
<line x1="197.0" y1="518.28" x2="199.5" y2="518.28" stroke="#7c7c7c" stroke-width="1"/>
<text x="193.3" y="520.548" font-size="6.3" text-anchor="end" fill="#111" >10</text>
<line x1="197.0" y1="533.54" x2="199.5" y2="533.54" stroke="#7c7c7c" stroke-width="1"/>
<text x="193.3" y="535.808" font-size="6.3" text-anchor="end" fill="#111" >5</text>
<line x1="197.0" y1="548.8" x2="199.5" y2="548.8" stroke="#7c7c7c" stroke-width="1"/>
<text x="193.3" y="551.068" font-size="6.3" text-anchor="end" fill="#111" >0</text>
<text font-size="6.2" text-anchor="middle" font-weight="bold" stroke="#000" stroke-width="0.22" fill="#000" textLength="72.7" lengthAdjust="spacingAndGlyphs" transform="translate(180.6 507.2) rotate(-90)" >EC expression (% of L19)</text>
<line x1="227.5" y1="516.25" x2="227.5" y2="523" stroke="#484848" stroke-width="0.8"/>
<line x1="226.3" y1="516.25" x2="228.7" y2="516.25" stroke="#484848" stroke-width="0.8"/>
<rect x="215.75" y="522.00" width="23.00" height="26.30" fill="#0870c4"/>
<line x1="283.5" y1="489.25" x2="283.5" y2="499" stroke="#484848" stroke-width="0.8"/>
<line x1="282.3" y1="489.25" x2="284.7" y2="489.25" stroke="#484848" stroke-width="0.8"/>
<rect x="271.25" y="498.00" width="23.75" height="50.30" fill="#05f805"/>
<text x="283.6" y="484.455" font-size="13.5" text-anchor="middle" fill="#111" stroke="#111" stroke-width="0.25">*</text>
<text x="226.9" y="561.7" font-size="6.4" text-anchor="middle" fill="#111" textLength="28.4" lengthAdjust="spacingAndGlyphs" >B16/mock</text>
<text x="282.9" y="561.7" font-size="6.4" text-anchor="middle" fill="#111" textLength="32.8" lengthAdjust="spacingAndGlyphs" >B16/PDGFB</text>
<text x="310.3" y="453.8" font-size="11" font-weight="bold" fill="#000" >G</text>
<line x1="364.9" y1="444.5" x2="364.9" y2="549.9" stroke="#2a2a2a" stroke-width="1.1"/>
<line x1="362.4" y1="549.4" x2="520.5" y2="549.4" stroke="#2a2a2a" stroke-width="1.1"/>
<line x1="441.75" y1="549.4" x2="441.75" y2="551.9" stroke="#2a2a2a" stroke-width="1.1"/>
<line x1="362.4" y1="445.0" x2="364.9" y2="445.0" stroke="#2a2a2a" stroke-width="1.1"/>
<text x="360.3" y="447.448" font-size="6.8" text-anchor="end" fill="#111" >0,45</text>
<line x1="362.4" y1="456.58" x2="364.9" y2="456.58" stroke="#2a2a2a" stroke-width="1.1"/>
<text x="360.3" y="459.02799999999996" font-size="6.8" text-anchor="end" fill="#111" >0,4</text>
<line x1="362.4" y1="468.16" x2="364.9" y2="468.16" stroke="#2a2a2a" stroke-width="1.1"/>
<text x="360.3" y="470.608" font-size="6.8" text-anchor="end" fill="#111" >0,35</text>
<line x1="362.4" y1="479.74" x2="364.9" y2="479.74" stroke="#2a2a2a" stroke-width="1.1"/>
<text x="360.3" y="482.188" font-size="6.8" text-anchor="end" fill="#111" >0,3</text>
<line x1="362.4" y1="491.32" x2="364.9" y2="491.32" stroke="#2a2a2a" stroke-width="1.1"/>
<text x="360.3" y="493.768" font-size="6.8" text-anchor="end" fill="#111" >0,25</text>
<line x1="362.4" y1="502.9" x2="364.9" y2="502.9" stroke="#2a2a2a" stroke-width="1.1"/>
<text x="360.3" y="505.34799999999996" font-size="6.8" text-anchor="end" fill="#111" >0,2</text>
<line x1="362.4" y1="514.48" x2="364.9" y2="514.48" stroke="#2a2a2a" stroke-width="1.1"/>
<text x="360.3" y="516.928" font-size="6.8" text-anchor="end" fill="#111" >0,15</text>
<line x1="362.4" y1="526.06" x2="364.9" y2="526.06" stroke="#2a2a2a" stroke-width="1.1"/>
<text x="360.3" y="528.5079999999999" font-size="6.8" text-anchor="end" fill="#111" >0,1</text>
<line x1="362.4" y1="537.64" x2="364.9" y2="537.64" stroke="#2a2a2a" stroke-width="1.1"/>
<text x="360.3" y="540.088" font-size="6.8" text-anchor="end" fill="#111" >0,05</text>
<line x1="362.4" y1="549.22" x2="364.9" y2="549.22" stroke="#2a2a2a" stroke-width="1.1"/>
<text x="360.3" y="551.668" font-size="6.8" text-anchor="end" fill="#111" >0</text>
<text font-size="6.5" text-anchor="middle" font-weight="bold" stroke="#000" stroke-width="0.22" fill="#000" textLength="80.5" lengthAdjust="spacingAndGlyphs" transform="translate(339.5 493.4) rotate(-90)" >EC expression (% of L19)</text>
<rect x="376.30" y="453.80" width="5.00" height="5.00" fill="#0870c4"/>
<rect x="376.30" y="463.00" width="5.00" height="5.00" fill="#55f52d"/>
<text x="383" y="458.5" font-size="6.5" fill="#111" textLength="17.7" lengthAdjust="spacingAndGlyphs" >plastic</text>
<text x="383" y="467.3" font-size="6.5" fill="#111" textLength="32" lengthAdjust="spacingAndGlyphs" >vitronectin</text>
<line x1="392.5" y1="538.25" x2="392.5" y2="541.5" stroke="#484848" stroke-width="0.8"/>
<line x1="391.3" y1="538.25" x2="393.7" y2="538.25" stroke="#484848" stroke-width="0.8"/>
<rect x="381.25" y="540.50" width="22.00" height="8.30" fill="#0870c4"/>
<line x1="414.5" y1="512" x2="414.5" y2="518" stroke="#484848" stroke-width="0.8"/>
<line x1="413.3" y1="512" x2="415.7" y2="512" stroke="#484848" stroke-width="0.8"/>
<rect x="403.25" y="517.00" width="21.75" height="31.80" fill="#55f52d"/>
<line x1="469.5" y1="510" x2="469.5" y2="515.25" stroke="#484848" stroke-width="0.8"/>
<line x1="468.3" y1="510" x2="470.7" y2="510" stroke="#484848" stroke-width="0.8"/>
<rect x="458.25" y="514.25" width="21.75" height="34.55" fill="#0870c4"/>
<line x1="491.5" y1="454.25" x2="491.5" y2="462.75" stroke="#484848" stroke-width="0.8"/>
<line x1="490.3" y1="454.25" x2="492.7" y2="454.25" stroke="#484848" stroke-width="0.8"/>
<rect x="480.00" y="461.75" width="22.00" height="87.05" fill="#55f52d"/>
<text x="416" y="506.17" font-size="14" text-anchor="middle" fill="#111" stroke="#111" stroke-width="0.25">**</text>
<text x="492.2" y="450.42" font-size="14" text-anchor="middle" fill="#111" stroke="#111" stroke-width="0.25">**</text>
<text x="403.7" y="562.8" font-size="6.6" text-anchor="middle" fill="#111" textLength="15" lengthAdjust="spacingAndGlyphs" >Bcl-w</text>
<text x="480.1" y="562.8" font-size="6.6" text-anchor="middle" fill="#111" textLength="21.3" lengthAdjust="spacingAndGlyphs" >VEGF-A</text>
</svg>
</body></html>
